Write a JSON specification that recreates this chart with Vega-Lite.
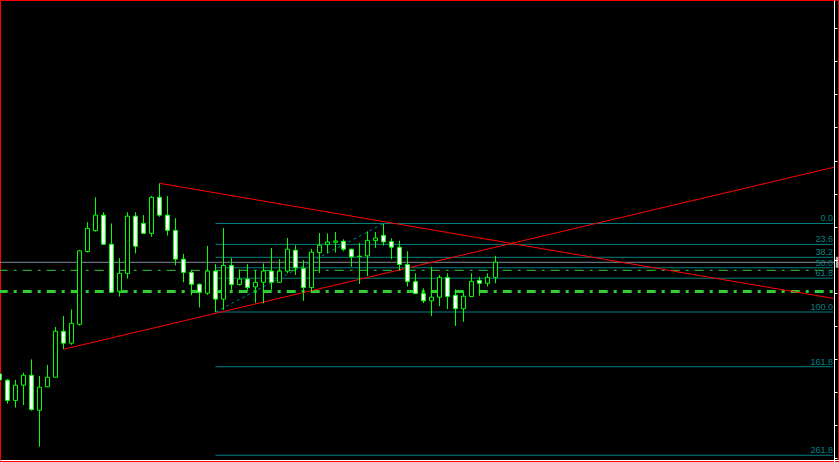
{
  "$schema": "https://vega.github.io/schema/vega-lite/v6.json",
  "width": 839,
  "height": 462,
  "autosize": {"type": "none"},
  "padding": 0,
  "background": "#000000",
  "config": {
    "view": {"stroke": "#ff0000", "strokeWidth": 2, "fill": "#000000"},
    "axisX": {"ticks": false, "labels": false, "grid": false, "domainColor": "#ffffff", "domainWidth": 1},
    "axisY": {"labels": false, "grid": false, "domainColor": "#ffffff", "domainWidth": 1, "tickColor": "#ffffff", "tickSize": 3, "tickWidth": 1}
  },
  "datasets": {
    "candles": [
      {"i": 0, "o": 125.5, "h": 125.5, "l": 123.7, "c": 123.7},
      {"i": 1, "o": 123.6, "h": 124.0, "l": 116.5, "c": 117.5},
      {"i": 2, "o": 117.5, "h": 123.7, "l": 115.3, "c": 122.1},
      {"i": 3, "o": 122.1, "h": 125.9, "l": 116.1, "c": 125.1},
      {"i": 4, "o": 125.1, "h": 129.9, "l": 114.4, "c": 114.7},
      {"i": 5, "o": 114.5, "h": 124.9, "l": 103.5, "c": 121.5},
      {"i": 6, "o": 121.6, "h": 128.2, "l": 121.5, "c": 124.5},
      {"i": 7, "o": 124.5, "h": 139.7, "l": 124.4, "c": 138.4},
      {"i": 8, "o": 138.4, "h": 143.0, "l": 133.0, "c": 134.8},
      {"i": 9, "o": 134.8, "h": 145.0, "l": 134.3, "c": 140.8},
      {"i": 10, "o": 140.5, "h": 163.0, "l": 140.1, "c": 162.7},
      {"i": 11, "o": 162.5, "h": 171.4, "l": 162.2, "c": 169.5},
      {"i": 12, "o": 168.8, "h": 178.9, "l": 168.5, "c": 173.5},
      {"i": 13, "o": 173.5, "h": 174.4, "l": 164.6, "c": 164.7},
      {"i": 14, "o": 164.7, "h": 171.0, "l": 150.1, "c": 150.2},
      {"i": 15, "o": 150.5, "h": 160.5, "l": 148.9, "c": 155.9},
      {"i": 16, "o": 155.9, "h": 174.4, "l": 154.3, "c": 173.2},
      {"i": 17, "o": 173.2, "h": 174.4, "l": 161.9, "c": 164.1},
      {"i": 18, "o": 171.0, "h": 173.5, "l": 167.9, "c": 168.0},
      {"i": 19, "o": 168.0, "h": 179.3, "l": 167.0, "c": 178.9},
      {"i": 20, "o": 178.9, "h": 183.1, "l": 173.0, "c": 173.5},
      {"i": 21, "o": 173.5, "h": 179.3, "l": 167.3, "c": 168.9},
      {"i": 22, "o": 168.9, "h": 172.6, "l": 158.3, "c": 160.2},
      {"i": 23, "o": 160.2, "h": 161.8, "l": 153.2, "c": 156.2},
      {"i": 24, "o": 156.2, "h": 156.9, "l": 149.3, "c": 152.6},
      {"i": 25, "o": 152.6, "h": 152.9, "l": 145.6, "c": 150.2},
      {"i": 26, "o": 149.9, "h": 164.2, "l": 149.4, "c": 156.6},
      {"i": 27, "o": 156.6, "h": 158.7, "l": 144.2, "c": 148.1},
      {"i": 28, "o": 148.1, "h": 169.6, "l": 144.8, "c": 158.3},
      {"i": 29, "o": 158.3, "h": 160.5, "l": 150.9, "c": 152.5},
      {"i": 30, "o": 152.5, "h": 157.1, "l": 152.3, "c": 154.2},
      {"i": 31, "o": 154.2, "h": 158.7, "l": 150.9, "c": 151.6},
      {"i": 32, "o": 151.8, "h": 156.9, "l": 147.0, "c": 153.2},
      {"i": 33, "o": 153.2, "h": 158.9, "l": 146.9, "c": 156.6},
      {"i": 34, "o": 156.6, "h": 163.6, "l": 150.9, "c": 153.2},
      {"i": 35, "o": 153.2, "h": 160.2, "l": 153.1, "c": 156.6},
      {"i": 36, "o": 156.6, "h": 166.6, "l": 155.9, "c": 163.2},
      {"i": 37, "o": 162.9, "h": 164.4, "l": 155.4, "c": 157.6},
      {"i": 38, "o": 157.4, "h": 159.9, "l": 147.6, "c": 151.6},
      {"i": 39, "o": 151.6, "h": 163.3, "l": 150.4, "c": 162.3},
      {"i": 40, "o": 162.2, "h": 168.1, "l": 156.0, "c": 164.4},
      {"i": 41, "o": 164.6, "h": 168.0, "l": 162.0, "c": 165.4},
      {"i": 42, "o": 165.3, "h": 168.4, "l": 162.2, "c": 165.7},
      {"i": 43, "o": 165.6, "h": 166.2, "l": 162.6, "c": 163.2},
      {"i": 44, "o": 163.2, "h": 163.4, "l": 157.9, "c": 160.9},
      {"i": 45, "o": 161.1, "h": 165.1, "l": 152.7, "c": 161.0},
      {"i": 46, "o": 161.2, "h": 168.6, "l": 155.1, "c": 165.8},
      {"i": 47, "o": 165.8, "h": 168.4, "l": 163.6, "c": 166.6},
      {"i": 48, "o": 167.4, "h": 170.9, "l": 164.3, "c": 165.4},
      {"i": 49, "o": 165.5, "h": 166.5, "l": 160.2, "c": 163.8},
      {"i": 50, "o": 163.8, "h": 165.8, "l": 156.9, "c": 158.6},
      {"i": 51, "o": 158.6, "h": 162.6, "l": 151.9, "c": 153.4},
      {"i": 52, "o": 153.4, "h": 155.9, "l": 149.7, "c": 149.8},
      {"i": 53, "o": 149.8, "h": 151.4, "l": 146.9, "c": 147.6},
      {"i": 54, "o": 147.6, "h": 157.9, "l": 143.0, "c": 148.7},
      {"i": 55, "o": 148.7, "h": 155.4, "l": 146.0, "c": 154.7},
      {"i": 56, "o": 154.7, "h": 155.9, "l": 145.1, "c": 148.9},
      {"i": 57, "o": 149.3, "h": 151.1, "l": 140.0, "c": 145.2},
      {"i": 58, "o": 145.2, "h": 150.4, "l": 141.3, "c": 149.0},
      {"i": 59, "o": 148.9, "h": 155.9, "l": 148.8, "c": 153.5},
      {"i": 60, "o": 153.8, "h": 154.9, "l": 149.1, "c": 152.9},
      {"i": 61, "o": 152.9, "h": 155.9, "l": 151.9, "c": 154.7},
      {"i": 62, "o": 154.7, "h": 161.2, "l": 152.9, "c": 159.3}
    ],
    "fib": [
      {"label": "0.0", "p": 170.98},
      {"label": "23.6", "p": 164.66},
      {"label": "38.2", "p": 160.76},
      {"label": "50.0", "p": 157.60},
      {"label": "61.8", "p": 154.44},
      {"label": "100.0", "p": 144.22},
      {"label": "161.8", "p": 127.68},
      {"label": "261.8", "p": 100.92}
    ],
    "fibdiag": [
      {"i": 27, "p": 144.22},
      {"i": 48, "p": 170.98}
    ],
    "trend": [
      {"id": "A", "i": 20, "p": 183.13},
      {"id": "A", "i": 104.3125, "p": 148.3},
      {"id": "B", "i": 8, "p": 132.95},
      {"id": "B", "i": 104.3125, "p": 188.0}
    ]
  },
  "layer": [
    {
      "data": {"values": [{"p": 159.25}]},
      "mark": {"type": "rule", "color": "#7f8c9a", "strokeWidth": 1},
      "encoding": {
        "x": {"datum": 0.0625, "type": "quantitative", "scale": {"domain": [0.0625, 104.9375], "nice": false, "zero": false, "padding": 0},
              "axis": {"orient": "bottom", "offset": -2, "title": null}},
        "x2": {"datum": 104.3125},
        "y": {"field": "p", "type": "quantitative", "scale": {"domain": [98.88, 238.54], "nice": false, "zero": false, "padding": 0},
              "axis": {"orient": "right", "offset": -5, "title": null, "values": [100, 110, 120, 130, 140, 150, 160, 170, 180, 190, 200, 210, 220, 230]}}
      }
    },
    {
      "data": {"values": [{"p": 156.83}]},
      "mark": {"type": "rule", "color": "#32cd32", "strokeWidth": 1, "strokeDash": [9, 6, 3, 6], "strokeDashOffset": 1.3},
      "encoding": {
        "x": {"datum": 0.0625, "type": "quantitative", "scale": {"domain": [0.0625, 104.9375], "nice": false, "zero": false, "padding": 0},
              "axis": {"orient": "bottom", "offset": -2, "title": null}},
        "x2": {"datum": 104.3125},
        "y": {"field": "p", "type": "quantitative", "scale": {"domain": [98.88, 238.54], "nice": false, "zero": false, "padding": 0},
              "axis": {"orient": "right", "offset": -5, "title": null, "values": [100, 110, 120, 130, 140, 150, 160, 170, 180, 190, 200, 210, 220, 230]}}
      }
    },
    {
      "data": {"values": [{"p": 150.42}]},
      "mark": {"type": "rule", "color": "#32cd32", "strokeWidth": 3, "strokeDash": [9, 6, 3, 6], "strokeDashOffset": 1.3},
      "encoding": {
        "x": {"datum": 0.0625, "type": "quantitative", "scale": {"domain": [0.0625, 104.9375], "nice": false, "zero": false, "padding": 0},
              "axis": {"orient": "bottom", "offset": -2, "title": null}},
        "x2": {"datum": 104.3125},
        "y": {"field": "p", "type": "quantitative", "scale": {"domain": [98.88, 238.54], "nice": false, "zero": false, "padding": 0},
              "axis": {"orient": "right", "offset": -5, "title": null, "values": [100, 110, 120, 130, 140, 150, 160, 170, 180, 190, 200, 210, 220, 230]}}
      }
    },
    {
      "data": {"name": "fib"},
      "mark": {"type": "rule", "color": "#008080", "strokeWidth": 1},
      "encoding": {
        "x": {"datum": 27, "type": "quantitative", "scale": {"domain": [0.0625, 104.9375], "nice": false, "zero": false, "padding": 0},
              "axis": {"orient": "bottom", "offset": -2, "title": null}},
        "x2": {"datum": 104.2},
        "y": {"field": "p", "type": "quantitative", "scale": {"domain": [98.88, 238.54], "nice": false, "zero": false, "padding": 0},
              "axis": {"orient": "right", "offset": -5, "title": null, "values": [100, 110, 120, 130, 140, 150, 160, 170, 180, 190, 200, 210, 220, 230]}}
      }
    },
    {
      "data": {"name": "fib"},
      "mark": {"type": "text", "color": "#0a8080", "font": "Liberation Sans", "fontSize": 9, "align": "right", "baseline": "alphabetic", "dy": -2},
      "encoding": {
        "x": {"datum": 104.2, "type": "quantitative", "scale": {"domain": [0.0625, 104.9375], "nice": false, "zero": false, "padding": 0},
              "axis": {"orient": "bottom", "offset": -2, "title": null}},
        "y": {"field": "p", "type": "quantitative", "scale": {"domain": [98.88, 238.54], "nice": false, "zero": false, "padding": 0},
              "axis": {"orient": "right", "offset": -5, "title": null, "values": [100, 110, 120, 130, 140, 150, 160, 170, 180, 190, 200, 210, 220, 230]}},
        "text": {"field": "label"}
      }
    },
    {
      "data": {"name": "fibdiag"},
      "mark": {"type": "line", "color": "#008080", "strokeWidth": 1, "strokeDash": [3, 3]},
      "encoding": {
        "x": {"field": "i", "type": "quantitative", "scale": {"domain": [0.0625, 104.9375], "nice": false, "zero": false, "padding": 0},
              "axis": {"orient": "bottom", "offset": -2, "title": null}},
        "y": {"field": "p", "type": "quantitative", "scale": {"domain": [98.88, 238.54], "nice": false, "zero": false, "padding": 0},
              "axis": {"orient": "right", "offset": -5, "title": null, "values": [100, 110, 120, 130, 140, 150, 160, 170, 180, 190, 200, 210, 220, 230]}}
      }
    },
    {
      "data": {"name": "trend"},
      "mark": {"type": "line", "color": "#ff0000", "strokeWidth": 1},
      "encoding": {
        "x": {"field": "i", "type": "quantitative", "scale": {"domain": [0.0625, 104.9375], "nice": false, "zero": false, "padding": 0},
              "axis": {"orient": "bottom", "offset": -2, "title": null}},
        "y": {"field": "p", "type": "quantitative", "scale": {"domain": [98.88, 238.54], "nice": false, "zero": false, "padding": 0},
              "axis": {"orient": "right", "offset": -5, "title": null, "values": [100, 110, 120, 130, 140, 150, 160, 170, 180, 190, 200, 210, 220, 230]}},
        "detail": {"field": "id"}
      }
    },
    {
      "data": {"name": "candles"},
      "mark": {"type": "rule", "color": "#00ff00", "strokeWidth": 1},
      "encoding": {
        "x": {"field": "i", "type": "quantitative", "scale": {"domain": [0.0625, 104.9375], "nice": false, "zero": false, "padding": 0},
              "axis": {"orient": "bottom", "offset": -2, "title": null}},
        "y": {"field": "l", "type": "quantitative", "scale": {"domain": [98.88, 238.54], "nice": false, "zero": false, "padding": 0},
              "axis": {"orient": "right", "offset": -5, "title": null, "values": [100, 110, 120, 130, 140, 150, 160, 170, 180, 190, 200, 210, 220, 230]}},
        "y2": {"field": "h"}
      }
    },
    {
      "data": {"name": "candles"},
      "mark": {"type": "bar", "size": 4, "stroke": "#00ff00", "strokeWidth": 1},
      "encoding": {
        "x": {"field": "i", "type": "quantitative", "scale": {"domain": [0.0625, 104.9375], "nice": false, "zero": false, "padding": 0},
              "axis": {"orient": "bottom", "offset": -2, "title": null}},
        "y": {"field": "o", "type": "quantitative", "scale": {"domain": [98.88, 238.54], "nice": false, "zero": false, "padding": 0},
              "axis": {"orient": "right", "offset": -5, "title": null, "values": [100, 110, 120, 130, 140, 150, 160, 170, 180, 190, 200, 210, 220, 230]}},
        "y2": {"field": "c"},
        "fill": {"condition": {"test": "datum.o > datum.c", "value": "#ffffff"}, "value": "#000000"}
      }
    },
    {
      "data": {"values": [{"p": 159.25}]},
      "mark": {"type": "tick", "color": "#ffffff", "orient": "vertical", "size": 11, "thickness": 2.5},
      "encoding": {
        "x": {"datum": 104.7, "type": "quantitative", "scale": {"domain": [0.0625, 104.9375], "nice": false, "zero": false, "padding": 0},
              "axis": {"orient": "bottom", "offset": -2, "title": null}},
        "y": {"field": "p", "type": "quantitative", "scale": {"domain": [98.88, 238.54], "nice": false, "zero": false, "padding": 0},
              "axis": {"orient": "right", "offset": -5, "title": null, "values": [100, 110, 120, 130, 140, 150, 160, 170, 180, 190, 200, 210, 220, 230]}}
      }
    }
  ]
}
